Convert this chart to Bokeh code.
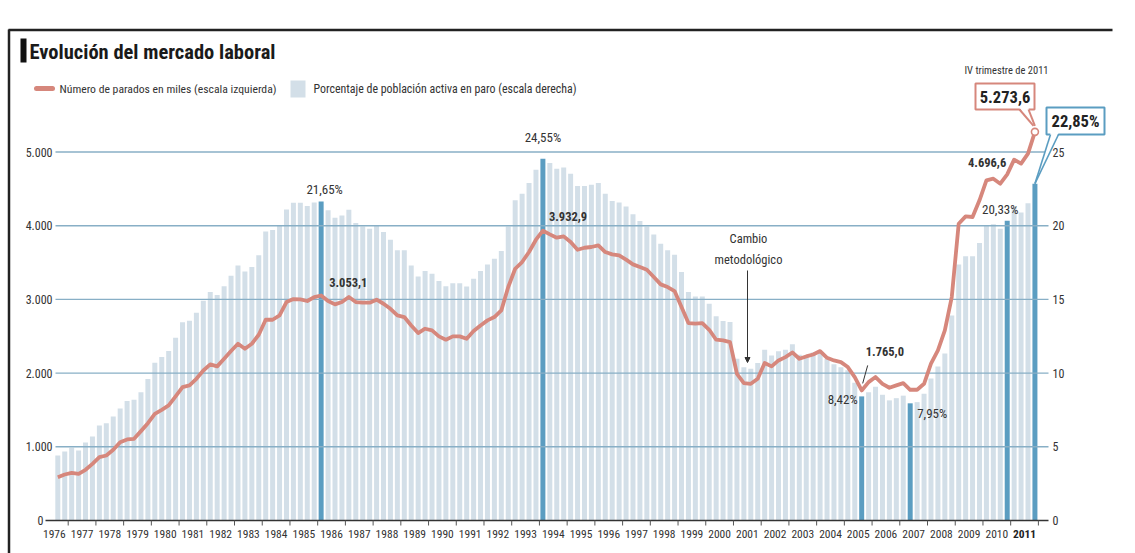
from bokeh.plotting import figure
from bokeh.models import Range1d, Arrow, NormalHead
from bokeh.core.properties import value
from bokeh.embed import file_html
from bokeh.resources import INLINE

# ---------------- data (quarterly, 1976 T3 .. 2011 T4) ----------------
years = list(range(1976, 2012))
pct = [4.41, 4.68, 4.93, 4.75, 5.30, 5.70, 6.45, 6.60, 7.06, 7.60, 8.10, 8.20,
       8.70, 9.60, 10.70, 11.10, 11.50, 12.40, 13.45, 13.55, 14.10, 14.90, 15.50, 15.30,
       15.90, 16.60, 17.30, 16.90, 17.20, 18.00, 19.60, 19.70, 20.00, 21.10, 21.55, 21.55,
       21.33, 21.58, 21.65, 21.04, 20.54, 20.70, 21.09, 20.18, 19.95, 19.80, 20.00, 19.57,
       19.05, 18.33, 18.33, 17.30, 16.56, 16.92, 16.74, 16.24, 15.90, 16.10, 16.10, 15.88,
       16.40, 16.92, 17.37, 17.76, 18.28, 19.95, 21.72, 22.17, 22.90, 23.80, 24.55, 24.25,
       23.87, 23.94, 23.53, 22.69, 22.69, 22.78, 22.90, 22.17, 21.67, 21.58, 21.31, 20.77,
       20.32, 19.95, 19.41, 18.78, 18.33, 18.03, 16.86, 15.50, 15.20, 15.20, 14.70, 13.85,
       13.53, 13.46, 10.97, 10.40, 10.29, 10.68, 11.58, 11.20, 11.49, 11.58, 11.95, 11.25,
       11.20, 11.40, 11.35, 10.95, 10.60, 10.40, 10.20, 9.35, 8.42, 8.70, 9.07, 8.53,
       8.15, 8.30, 8.47, 7.95, 8.03, 8.60, 9.63, 10.44, 11.33, 13.91, 17.36, 17.92,
       17.93, 18.83, 20.05, 20.09, 19.79, 20.33, 21.29, 20.89, 21.52, 22.85]
parados = [588, 624, 647, 634, 688, 769, 860, 882, 959, 1063, 1100, 1109,
           1213, 1321, 1448, 1502, 1561, 1683, 1810, 1833, 1923, 2036, 2118, 2091,
           2195, 2299, 2398, 2330, 2398, 2520, 2724, 2724, 2783, 2964, 3005, 3000,
           2978, 3032, 3053.1, 2978, 2932, 2964, 3032, 2964, 2955, 2955, 2996, 2941,
           2873, 2783, 2760, 2647, 2543, 2602, 2579, 2498, 2453, 2498, 2498, 2466,
           2570, 2647, 2715, 2760, 2851, 3168, 3416, 3507, 3643, 3810, 3932.9, 3882,
           3837, 3855, 3778, 3674, 3701, 3711, 3733, 3643, 3611, 3597, 3539, 3475,
           3439, 3403, 3303, 3204, 3168, 3113, 2896, 2679, 2670, 2679, 2588, 2453,
           2444, 2421, 1991, 1864, 1855, 1923, 2136, 2091, 2172, 2217, 2280, 2195,
           2226, 2253, 2299, 2208, 2172, 2149, 2082, 1946, 1765.0, 1878, 1946, 1855,
           1801, 1833, 1864, 1774, 1774, 1855, 2127, 2308, 2579, 3032, 4027, 4127,
           4118, 4344, 4616, 4638, 4570, 4696.6, 4896, 4842, 4978, 5273.6]
highlight = [38, 70, 116, 123, 137, 141]          # quarters with a labelled bar
left_ticks = [0, 1000, 2000, 3000, 4000, 5000]
right_ticks = [0, 5, 10, 15, 20, 25]

title = "Evolución del mercado laboral"
legend_line = "Número de parados en miles (escala izquierda)"
legend_bar = "Porcentaje de población activa en paro (escala derecha)"

# ---------------- helpers ----------------
def fmt_pct(v):
    return f"{v:.2f}".replace(".", ",") + "%"

def fmt_num(v):
    return f"{v:,.1f}".replace(",", "X").replace(".", ",").replace("X", ".")

# pixel geometry of the page -> data units
X0, XS = 57.3, 6.93      # px of first quarter, px per quarter
Y0, YS = 520.0, 0.0737   # px of zero, px per thousand
W, H = 1135, 553

def dx(px):
    return (px - X0) / XS

def dy(py):
    return (Y0 - py) / YS

FONT = value("Roboto Condensed, Roboto, sans-serif")
TXT = "#333333"
LIGHT = "#d3dfe8"
DARK = "#5b9dc1"
LINE = "#d6877c"
GRID = "#88afc6"

p = figure(width=W, height=H, x_range=Range1d(dx(0), dx(W)),
           y_range=Range1d(dy(H), dy(0)),
           x_axis_type=None, y_axis_type=None,
           output_backend="svg", toolbar_location=None, min_border=0)
p.extra_y_ranges = {"pct": Range1d(dy(H) / 200, dy(0) / 200)}
p.outline_line_color = None
p.background_fill_color = "white"
p.border_fill_color = "white"

xs = list(range(len(pct)))
light_x = [i for i in xs if i not in highlight]
p.vbar(x=light_x, top=[pct[i] for i in light_x], bottom=0, width=0.72,
       fill_color=LIGHT, line_color=None, y_range_name="pct")
p.vbar(x=highlight, top=[pct[i] for i in highlight], bottom=0, width=0.72,
       fill_color=DARK, line_color=None, y_range_name="pct")

# grid lines
gx0, gx1 = dx(55), dx(1048)
p.segment(x0=[gx0] * 5, x1=[gx1] * 5, y0=left_ticks[1:], y1=left_ticks[1:],
          line_color=GRID, line_width=1.4)
# base line and year ticks
p.segment(x0=[dx(45)], x1=[gx1], y0=[0], y1=[0], line_color="#333333", line_width=1.5)
bounds = [4 * (y - 1977) + 1.5 for y in years[1:]] + [4 * (2012 - 1977) + 1.5]
p.segment(x0=bounds, x1=bounds, y0=[0] * len(bounds), y1=[-5 / YS] * len(bounds),
          line_color="#555555", line_width=1)

# series line
p.line(xs, parados, line_color=LINE, line_width=3.8, line_join="round")
p.scatter([xs[-1]], [parados[-1]], size=7, fill_color="white", line_color=LINE, line_width=1.6)

# axis labels
p.text(x=[dx(52)] * 5, y=left_ticks[1:], text=[f"{v:,}".replace(",", ".") for v in left_ticks[1:]],
       text_font=FONT, text_font_size="12px", text_color=TXT, text_align="right",
       text_baseline="middle")
p.text(x=[dx(43)], y=[0], text=["0"], text_font=FONT, text_font_size="12px",
       text_color=TXT, text_align="right", text_baseline="middle")
p.text(x=[dx(1052)] * 6, y=right_ticks, text=[str(v) for v in right_ticks],
       y_range_name="pct", text_font=FONT, text_font_size="12px", text_color=TXT,
       text_align="left", text_baseline="middle")
centers = [4 * (y - 1977) + 3.5 for y in years]
p.text(x=centers[:-1], y=[dy(533)] * (len(years) - 1), text=[str(y) for y in years[:-1]],
       text_font=FONT, text_font_size="11.5px", text_color=TXT, text_align="center",
       text_baseline="middle")
p.text(x=centers[-1:], y=[dy(533)], text=[str(years[-1])], text_font=FONT,
       text_font_size="11.5px", text_font_style="bold", text_color="#222222",
       text_align="center", text_baseline="middle")

# ---------------- annotations ----------------
PXX, PXY = 1 / XS, 1 / YS
def t(x, y, s, size="13px", bold=False, align="left", base="middle", color=TXT, rng="default"):
    p.text(x=[x], y=[y], text=[s], text_font=FONT, text_font_size=size,
           text_font_style="bold" if bold else "normal", text_align=align,
           text_baseline=base, text_color=color, y_range_name=rng)

B = "12.5px"
i = 38
t(i + 0.5, pct[i] + 4 * PXY / 200, fmt_pct(pct[i]), align="center", base="bottom", rng="pct")
t(i + 8 * PXX, parados[i] + 13 * PXY, fmt_num(parados[i]), size=B, bold=True)
i = 70
t(i, pct[i] + 14 * PXY / 200, fmt_pct(pct[i]), align="center", base="bottom", rng="pct")
t(i + 6 * PXX, parados[i] + 14 * PXY, fmt_num(parados[i]), size=B, bold=True)
i = 116
t(i + 4 * PXX, parados[i] + 39 * PXY, fmt_num(parados[i]), size=B, bold=True)
p.segment(x0=[i + 6 * PXX], x1=[i + 1 * PXX], y0=[parados[i] + 25 * PXY],
          y1=[parados[i] + 7 * PXY], line_color="#333333", line_width=1)
t(i - 4 * PXX, pct[i] - 3 * PXY / 200, fmt_pct(pct[i]), align="right", rng="pct")
i = 123
t(i + 7 * PXX, pct[i] - 10 * PXY / 200, fmt_pct(pct[i]), align="left", rng="pct")
i = 137
t(i - 1 * PXX, parados[i] + 12 * PXY, fmt_num(parados[i]), size=B, bold=True, align="right")
t(i - 7 * PXX, pct[i] + 4 * PXY / 200, fmt_pct(pct[i]), align="center", base="bottom", rng="pct")

# methodological change
t(dx(748), dy(238), "Cambio", size="12.5px", align="center")
t(dx(748), dy(259), "metodológico", size="12.5px", align="center")
p.add_layout(Arrow(end=NormalHead(size=5, fill_color="#333333", line_color="#333333"),
                   x_start=dx(747), y_start=dy(270), x_end=dx(747), y_end=dy(362),
                   line_color="#333333", line_width=1))

# last-quarter call-outs
i = 141
t(dx(1006), dy(70), "IV trimestre de 2011", size="10.5px", align="center")
p.quad(left=[dx(975)], right=[dx(1034)], top=[dy(83)], bottom=[dy(109)],
       fill_color="white", line_color=LINE, line_width=2)
p.patch([dx(1019), dx(1028), i], [dy(107.5), dy(107.5), parados[i] + 6 * PXY],
        fill_color="white", line_color=None)
p.multi_line([[dx(1019), i - 0.2], [dx(1028), i]],
             [[dy(109), parados[i] + 6 * PXY], [dy(109), parados[i] + 6 * PXY]],
             line_color=LINE, line_width=2)
t(dx(1004.5), dy(96), fmt_num(parados[i]), size="16.5px", bold=True, align="center", color="#222222")

p.quad(left=[dx(1046)], right=[dx(1104)], top=[dy(107)], bottom=[dy(134)],
       fill_color="white", line_color=DARK, line_width=2)
p.patch([dx(1050), dx(1058), i], [dy(132.5), dy(132.5), pct[i] * 200],
        fill_color="white", line_color=None)
p.multi_line([[dx(1050), i], [dx(1058), i]],
             [[dy(134), pct[i] * 200], [dy(134), pct[i] * 200]],
             line_color=DARK, line_width=1.6)
t(dx(1075), dy(120.5), fmt_pct(pct[i]), size="16.5px", bold=True, align="center", color="#222222")

# ---------------- header: frame, title, legend ----------------
p.segment(x0=[dx(8)], x1=[dx(1112)], y0=[dy(29.5)], y1=[dy(29.5)], line_color="#222222", line_width=2.5)
p.segment(x0=[dx(8.5)], x1=[dx(8.5)], y0=[dy(29)], y1=[dy(553)], line_color="#222222", line_width=2.5)
p.quad(left=[dx(20)], right=[dx(26)], top=[dy(38)], bottom=[dy(62)], fill_color="#111111", line_color=None)
t(dx(29), dy(51), title, size="20.5px", bold=True, color="#1a1a1a")
p.segment(x0=[dx(36)], x1=[dx(52)], y0=[dy(88)], y1=[dy(88)], line_color=LINE, line_width=5,
          line_cap="round")
t(dx(59), dy(88), legend_line, size="11.7px")
p.quad(left=[dx(290)], right=[dx(305)], top=[dy(80)], bottom=[dy(97)], fill_color=LIGHT, line_color=None)
t(dx(313), dy(88), legend_bar, size="11.9px")

open("out.html", "w").write(file_html(p, INLINE))
